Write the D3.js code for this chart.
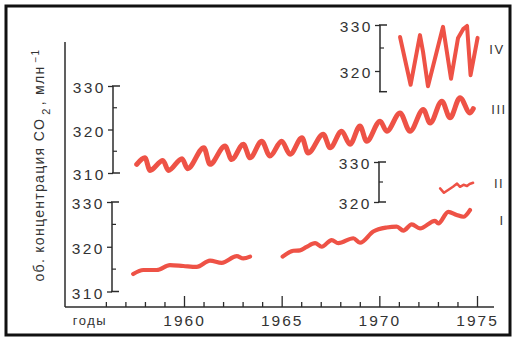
<!DOCTYPE html>
<html>
<head>
<meta charset="utf-8">
<script src="https://cdn.jsdelivr.net/npm/d3@7"></script>
<style>
  body { margin: 0; background: #fff; }
  svg { display: block; }
  text { font-family: "Liberation Sans", Arial, sans-serif; fill: #333; }
</style>
</head>
<body>
<svg width="514" height="341"></svg>
<script>
// values: [year, ppm]
var seriesIII = [
  [1957.58, 312.0], [1958.00, 313.5], [1958.26, 310.6], [1958.92, 312.9], [1959.20, 310.6],
  [1959.90, 313.3], [1960.18, 311.0], [1961.02, 315.8], [1961.33, 312.0], [1962.10, 316.2],
  [1962.44, 313.1], [1963.04, 316.6], [1963.38, 313.5], [1963.98, 317.3], [1964.40, 313.9],
  [1965.00, 317.3], [1965.43, 314.3], [1966.04, 318.1], [1966.35, 314.6], [1967.13, 318.9],
  [1967.48, 315.8], [1968.07, 319.6], [1968.50, 316.6], [1969.01, 320.8], [1969.35, 317.3],
  [1970.04, 321.9], [1970.38, 319.6], [1971.06, 323.8], [1971.57, 319.6], [1972.25, 324.6],
  [1972.60, 321.5], [1973.20, 326.5], [1973.62, 322.7], [1974.13, 327.3], [1974.64, 323.8],
  [1974.81, 324.8]
];
var seriesIV = [
  [1971.06, 327.4], [1971.32, 322.4], [1971.60, 317.0], [1972.08, 327.8], [1972.24, 324.1],
  [1972.49, 316.7], [1973.26, 329.6], [1973.67, 318.3], [1974.03, 327.2], [1974.29, 329.1],
  [1974.49, 329.8], [1974.67, 319.1], [1975.03, 327.2]
];
var seriesII = [
  [1973.11, 323.4], [1973.31, 322.3], [1973.52, 323.0], [1973.77, 323.8], [1973.98, 324.6],
  [1974.13, 323.8], [1974.31, 324.3], [1974.49, 324.0], [1974.62, 324.5], [1974.80, 324.8]
];
var seriesIa = [
  [1957.40, 313.9], [1957.92, 314.8], [1958.60, 314.8], [1959.28, 315.9], [1959.96, 315.7],
  [1960.65, 315.5], [1961.33, 316.9], [1961.93, 316.4], [1962.70, 317.9], [1963.04, 317.4],
  [1963.38, 317.8]
];
var seriesIb = [
  [1965.05, 317.8], [1965.60, 319.1], [1965.94, 319.2], [1966.25, 319.9], [1966.71, 320.8],
  [1967.05, 320.0], [1967.56, 321.5], [1967.90, 320.8], [1968.67, 321.9], [1969.01, 320.9],
  [1969.69, 323.4], [1970.38, 324.3], [1970.89, 324.5], [1971.23, 323.6], [1971.66, 325.0],
  [1972.08, 324.1], [1972.85, 325.8], [1973.02, 325.2], [1973.53, 327.8], [1973.96, 327.1],
  [1974.30, 326.7], [1974.64, 328.2]
];
var majorYears = [1960, 1965, 1970, 1975];
var minorYears = [1956, 1957, 1958, 1959, 1961, 1962, 1963, 1964, 1966, 1967, 1968, 1969, 1971, 1972, 1973, 1974];
var panelNames = ["IV", "III", "II", "I"];

var red = "#ee5246";
var ink = "#2b2b2b";
var svg = d3.select("svg");

// frame
svg.append("rect")
  .attr("x", 6).attr("y", 6).attr("width", 504).attr("height", 329)
  .attr("fill", "none").attr("stroke", "#111").attr("stroke-width", 3);

var x = d3.scaleLinear().domain([1960, 1975]).range([184, 477]);

var yIII = d3.scaleLinear().domain([310, 330]).range([173, 86]);
var yI = d3.scaleLinear().domain([310, 330]).range([291.5, 202]);
var yIV = d3.scaleLinear().domain([320, 330]).range([71, 25]);
var yII = d3.scaleLinear().domain([320, 330]).range([202, 162]);

// main axes
svg.append("line")
  .attr("x1", 65).attr("x2", 65).attr("y1", 42).attr("y2", 307)
  .attr("stroke", ink).attr("stroke-width", 1.5);
svg.append("line")
  .attr("x1", 65).attr("x2", 494).attr("y1", 307).attr("y2", 307)
  .attr("stroke", ink).attr("stroke-width", 1.5);

var minorAxis = svg.append("g")
  .attr("transform", "translate(0,307)")
  .call(d3.axisBottom(x).tickValues(minorYears).tickSize(-5).tickFormat(""));
minorAxis.select(".domain").remove();

var majorAxis = svg.append("g")
  .attr("transform", "translate(0,307)")
  .call(d3.axisBottom(x).tickValues(majorYears).tickSize(-11).tickPadding(8).tickFormat(d3.format("d")));
majorAxis.select(".domain").remove();
majorAxis.selectAll("text")
  .style("font-size", "15.5px").style("letter-spacing", "2px").attr("fill", "#333");
svg.selectAll(".tick line").attr("stroke", ink).attr("stroke-width", 1.3);

svg.append("text")
  .attr("x", 90).attr("y", 325)
  .attr("text-anchor", "middle")
  .style("font-size", "13px").style("letter-spacing", "1.5px")
  .text("годы");

// bracket axes
function bracket(scale, xPos, labels, minors, lo, hi) {
  var g = svg.append("g").attr("transform", "translate(" + xPos + ",0)");
  var ax = g.call(d3.axisLeft(scale).tickValues(labels).tickSize(5).tickPadding(2).tickFormat(d3.format("d")));
  ax.select(".domain").remove();
  ax.selectAll("text").style("font-size", "15.5px").style("letter-spacing", "2.5px")
    .attr("dy", "0.45em").attr("fill", "#333");
  ax.selectAll(".tick line").attr("stroke", ink).attr("stroke-width", 1.3);
  g.append("line").attr("x1", 0).attr("x2", 0)
    .attr("y1", scale(hi)).attr("y2", scale(lo))
    .attr("stroke", ink).attr("stroke-width", 1.5);
  g.append("line").attr("x1", -1).attr("x2", 7)
    .attr("y1", scale(hi)).attr("y2", scale(hi))
    .attr("stroke", ink).attr("stroke-width", 1.5);
  g.append("line").attr("x1", -1).attr("x2", 7)
    .attr("y1", scale(lo)).attr("y2", scale(lo))
    .attr("stroke", ink).attr("stroke-width", 1.5);
  g.selectAll("line.minor").data(minors).enter().append("line")
    .attr("class", "minor")
    .attr("x1", 0).attr("x2", 4)
    .attr("y1", function (d) { return scale(d); })
    .attr("y2", function (d) { return scale(d); })
    .attr("stroke", ink).attr("stroke-width", 1.2);
}

bracket(yIII, 113, [310, 320, 330], [315, 325], 310, 330);
bracket(yI, 112, [310, 320, 330], [315, 325], 310, 330);
bracket(yIV, 380, [320, 330], [325], 315.5, 330);
bracket(yII, 379, [320, 330], [325], 320, 330);

// series
function drawLine(data, yScale, width, curve) {
  var line = d3.line()
    .curve(curve)
    .x(function (d) { return x(d[0]); })
    .y(function (d) { return yScale(d[1]); });
  svg.append("path")
    .datum(data)
    .attr("d", line)
    .attr("fill", "none")
    .attr("stroke", red)
    .attr("stroke-width", width)
    .attr("stroke-linejoin", "round")
    .attr("stroke-linecap", "round");
}

drawLine(seriesIII, yIII, 5, d3.curveMonotoneX);
drawLine(seriesIa, yI, 4.2, d3.curveMonotoneX);
drawLine(seriesIb, yI, 4.2, d3.curveMonotoneX);
drawLine(seriesIV, yIV, 4, d3.curveLinear);
drawLine(seriesII, yII, 2.5, d3.curveLinear);

// panel labels
var labelPos = [[497, 49], [499, 109], [499, 183], [502, 220]];
svg.selectAll("text.panel").data(panelNames).enter().append("text")
  .attr("class", "panel")
  .attr("x", function (d, i) { return labelPos[i][0]; })
  .attr("y", function (d, i) { return labelPos[i][1]; })
  .attr("dy", "0.35em")
  .attr("text-anchor", "middle")
  .style("font-size", "13px").style("letter-spacing", "1.5px")
  .attr("fill", "#444")
  .text(function (d) { return d; });

// y title
var title = svg.append("text")
  .attr("transform", "translate(44,165) rotate(-90)")
  .attr("text-anchor", "middle")
  .style("font-size", "14px").style("letter-spacing", "1.3px")
  .attr("fill", "#555");
title.append("tspan").text("об. концентрация CO");
title.append("tspan").attr("baseline-shift", "sub").attr("dx", 3).style("font-size", "11px").text("2");
title.append("tspan").attr("dx", 2).text(", млн");
title.append("tspan").attr("baseline-shift", "super").attr("dx", 3).style("font-size", "10px").text("−1");
</script>
</body>
</html>
